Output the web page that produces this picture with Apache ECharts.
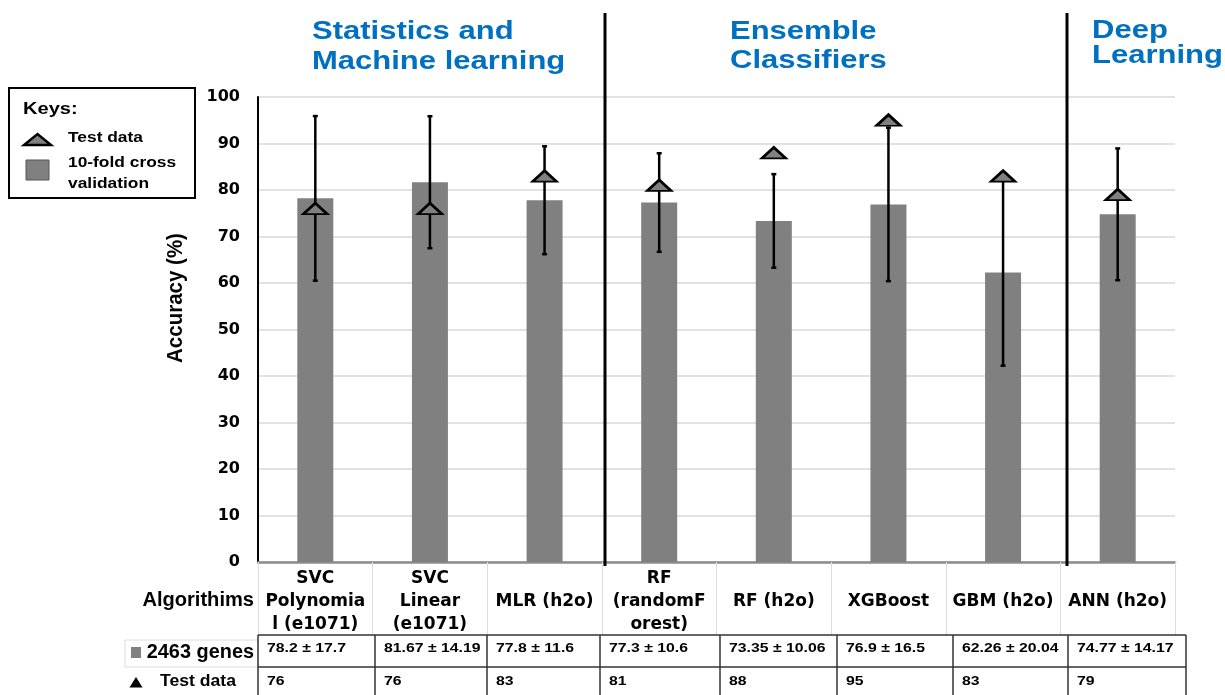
<!DOCTYPE html>
<html>
<head>
<meta charset="utf-8">
<title>Accuracy of classifiers</title>
<script src="https://cdn.jsdelivr.net/npm/echarts@6/dist/echarts.min.js"></script>
<style>
  html, body { margin: 0; padding: 0; background: #fff; }
  #chart { width: 1225px; height: 695px; }
</style>
</head>
<body>
<div id="chart"></div>
<script>
// ---- data ----
const categories = [
  'SVC\nPolynomia\nl (e1071)',
  'SVC\nLinear\n(e1071)',
  'MLR (h2o)',
  'RF\n(randomF\norest)',
  'RF (h2o)',
  'XGBoost',
  'GBM (h2o)',
  'ANN (h2o)'
];
// 10-fold cross validation accuracy (mean and standard deviation), 2463 genes
const cvMean = [78.2, 81.67, 77.8, 77.3, 73.35, 76.9, 62.26, 74.77];
const cvSd = [17.7, 14.19, 11.6, 10.6, 10.06, 16.5, 20.04, 14.17];
// accuracy on the held-out test data
const testAcc = [76, 76, 83, 81, 88, 95, 83, 79];
// method groups shown above the plot
const groupTitles = [
  ['Statistics and', 'Machine learning'],
  ['Ensemble', 'Classifiers'],
  ['Deep', 'Learning']
];

// ---- layout ----
const FONT = '"Liberation Sans", Arial, sans-serif';
const AXIS_FONT = '"DejaVu Sans", sans-serif';
const BLUE = '#0070C0';
const GREY = '#808080';
const GRID = { left: 258, right: 50, top: 97, bottom: 133 };
const tableCols = [258, 375, 487, 600, 720, 837, 953, 1068, 1186];
const tableRows = [635, 667, 698];

function label(x, y, text, size, opt) {
  opt = opt || {};
  const align = opt.align || 'left';
  return {
    type: 'text', x: x, y: y,
    scaleX: opt.sx || 1.15, scaleY: opt.sy || 1,
    rotation: opt.rotation || 0,
    silent: true, z: 20,
    style: {
      text: text,
      font: 'bold ' + size + 'px ' + FONT,
      fill: opt.color || '#000',
      align: align, textAlign: align,
      verticalAlign: 'middle', textVerticalAlign: 'middle'
    }
  };
}
function line(x1, y1, x2, y2, color, width) {
  return {
    type: 'line', silent: true, z: 15,
    shape: { x1: x1, y1: y1, x2: x2, y2: y2 },
    style: { stroke: color, lineWidth: width }
  };
}

const graphics = [];

// group titles and separators
graphics.push(label(312, 32, groupTitles[0][0], 26.5, { color: BLUE, sx: 1.17 }));
graphics.push(label(312, 62, groupTitles[0][1], 26.5, { color: BLUE, sx: 1.17 }));
graphics.push(label(730, 32, groupTitles[1][0], 26.5, { color: BLUE, sx: 1.17 }));
graphics.push(label(730, 61, groupTitles[1][1], 26.5, { color: BLUE, sx: 1.17 }));
graphics.push(label(1092, 31, groupTitles[2][0], 26.5, { color: BLUE, sx: 1.17 }));
graphics.push(label(1092, 56, groupTitles[2][1], 26.5, { color: BLUE, sx: 1.17 }));
graphics.push(line(605, 13, 605, 566, '#000', 3));
graphics.push(line(1067, 13, 1067, 566, '#000', 3));

// keys box
graphics.push({
  type: 'rect', silent: true, z: 15,
  shape: { x: 9, y: 88, width: 186, height: 110 },
  style: { fill: '#fff', stroke: '#000', lineWidth: 2 }
});
graphics.push(label(23, 109, 'Keys:', 17, { sx: 1.18 }));
graphics.push({
  type: 'polygon', silent: true, z: 16,
  shape: { points: [[24, 145], [51, 145], [37.5, 134]] },
  style: { fill: GREY, stroke: '#000', lineWidth: 2.5 }
});
graphics.push(label(68, 138, 'Test data', 15.5, { sx: 1.12 }));
graphics.push({
  type: 'rect', silent: true, z: 16,
  shape: { x: 26, y: 160, width: 23, height: 20 },
  style: { fill: GREY, stroke: '#555', lineWidth: 1 }
});
graphics.push(label(68, 163, '10-fold cross', 15.5, { sx: 1.12 }));
graphics.push(label(68, 184, 'validation', 15.5, { sx: 1.12 }));

// y axis title
graphics.push(label(176, 298, 'Accuracy (%)', 20.5, { align: 'center', rotation: Math.PI / 2, sx: 1, sy: 1.12 }));

// data table below the axis
graphics.push(label(254, 601, 'Algorithims', 19.5, { align: 'right', sx: 1.03 }));
graphics.push({
  type: 'rect', silent: true, z: 14,
  shape: { x: 125, y: 640, width: 133, height: 27 },
  style: { fill: 'none', stroke: '#dcdcdc', lineWidth: 1 }
});
graphics.push({
  type: 'rect', silent: true, z: 16,
  shape: { x: 131, y: 647, width: 10, height: 11 },
  style: { fill: GREY }
});
graphics.push(label(254, 653, '2463 genes', 19.5, { align: 'right', sx: 1.02 }));
graphics.push({
  type: 'polygon', silent: true, z: 16,
  shape: { points: [[129.5, 687.5], [142.5, 687.5], [136, 677]] },
  style: { fill: '#000' }
});
graphics.push(label(160, 682, 'Test data', 16, { sx: 1.1 }));

const tLeft = tableCols[0], tRight = tableCols[tableCols.length - 1];
tableRows.forEach(function (y) { graphics.push(line(tLeft, y, tRight, y, '#333', 1.5)); });
tableCols.forEach(function (x) { graphics.push(line(x, tableRows[0], x, tableRows[2], '#333', 1.5)); });
categories.forEach(function (c, i) {
  const x = tableCols[i] + 9;
  graphics.push(label(x, 648, cvMean[i] + ' \u00b1 ' + cvSd[i], 13.5, { sx: 1.17 }));
  graphics.push(label(x, 681, String(testAcc[i]), 13.5, { sx: 1.17 }));
});

// error bar extents from mean +/- sd
const errorData = cvMean.map(function (m, i) {
  return [i, +(m - cvSd[i]).toFixed(2), +(m + cvSd[i]).toFixed(2)];
});

const chart = echarts.init(document.getElementById('chart'), null, { renderer: 'canvas' });
chart.setOption({
  animation: false,
  backgroundColor: '#fff',
  grid: GRID,
  xAxis: {
    type: 'category',
    data: categories,
    axisLine: { lineStyle: { color: '#8c8c8c', width: 2.5 } },
    axisTick: { show: true, length: 73, lineStyle: { color: '#dcdcdc', width: 1 } },
    axisLabel: {
      interval: 0,
      margin: 40,
      verticalAlign: 'middle',
      color: '#000',
      fontFamily: AXIS_FONT,
      fontWeight: 'bold',
      fontSize: 17,
      lineHeight: 23
    },
    splitLine: { show: false }
  },
  yAxis: {
    type: 'value',
    min: 0, max: 100, interval: 10,
    axisLine: { show: true, lineStyle: { color: '#000', width: 2 } },
    axisTick: { show: false },
    axisLabel: {
      margin: 18,
      color: '#000',
      fontFamily: AXIS_FONT,
      fontWeight: 'bold',
      fontSize: 16
    },
    splitLine: { lineStyle: { color: '#d9d9d9', width: 1.5 } }
  },
  series: [
    {
      name: '10-fold cross validation',
      type: 'bar',
      data: cvMean,
      barWidth: 36,
      itemStyle: { color: GREY },
      z: 2
    },
    {
      name: 'SD',
      type: 'custom',
      data: errorData,
      z: 3,
      renderItem: function (params, api) {
        const lo = api.coord([api.value(0), api.value(1)]);
        const hi = api.coord([api.value(0), api.value(2)]);
        const cap = 2.5;
        const st = { stroke: '#000', lineWidth: 2.5 };
        return {
          type: 'group',
          children: [
            { type: 'line', shape: { x1: lo[0], y1: lo[1], x2: hi[0], y2: hi[1] }, style: st },
            { type: 'line', shape: { x1: lo[0] - cap, y1: lo[1], x2: lo[0] + cap, y2: lo[1] }, style: st },
            { type: 'line', shape: { x1: hi[0] - cap, y1: hi[1], x2: hi[0] + cap, y2: hi[1] }, style: st }
          ]
        };
      }
    },
    {
      name: 'Test data',
      type: 'scatter',
      data: testAcc,
      symbol: 'triangle',
      symbolSize: [24, 11],
      itemStyle: { color: GREY, borderColor: '#000', borderWidth: 2.5, opacity: 1 },
      z: 4
    }
  ],
  graphic: graphics
});
</script>
</body>
</html>
